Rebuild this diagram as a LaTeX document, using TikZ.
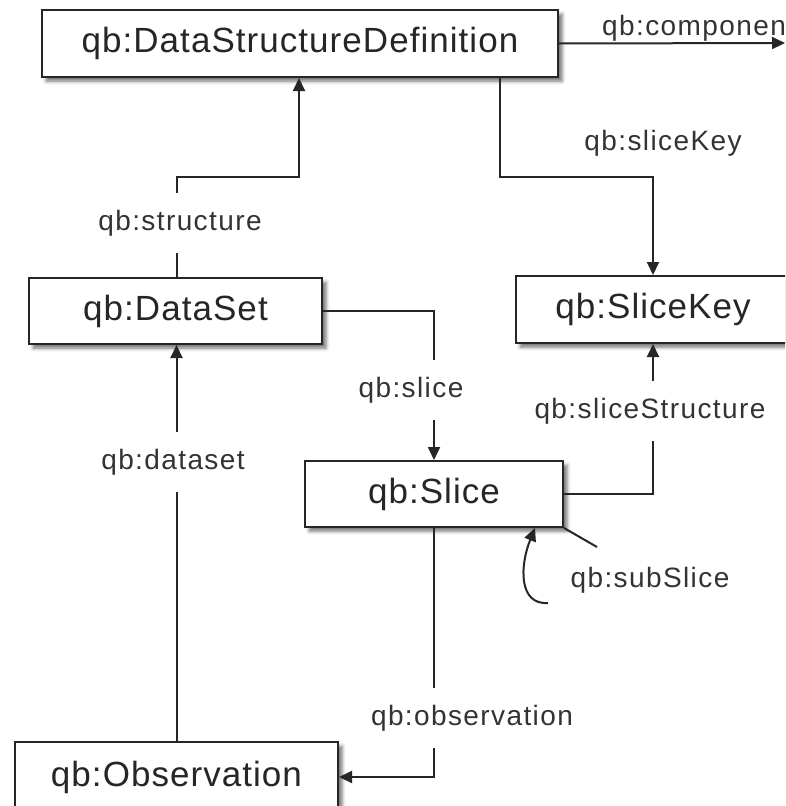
\documentclass[tikz,border=0pt]{standalone}
\usepackage{fontspec}
\setmainfont{Liberation Sans}
\newfontfamily\boxfont[LetterSpace=3]{Liberation Sans}
\newfontfamily\relfont[LetterSpace=5]{Liberation Sans}
\usetikzlibrary{arrows.meta,shadows.blur}

\tikzset{
  cls/.style={draw=black!85, line width=2pt, fill=white, inner sep=0pt,
    text=black!85, font=\boxfont\fontsize{35}{40}\selectfont,
    blur shadow={shadow xshift=4pt, shadow yshift=-4pt, shadow blur radius=3.5pt, shadow opacity=55}},
  rel/.style={inner sep=0pt, minimum height=60pt, text=black!80,
    font=\relfont\fontsize{28}{32}\selectfont},
  wire/.style={draw=black!85, line width=2pt},
  arr/.style={wire, -{Triangle[length=13pt, width=12pt]}},
}

\begin{document}
\begin{tikzpicture}[x=1pt, y=-1pt]
\useasboundingbox (0,0) rectangle (785,806);
\clip (0,0) rectangle (785,806);

% class boxes
\node[cls, minimum width=516pt, minimum height=67pt] (DSD) at (300,43.5) {qb:DataStructureDefinition};
\node[cls, minimum width=293pt, minimum height=66pt] (DataSet) at (175.5,311) {qb:DataSet};
\node[cls, minimum width=274pt, minimum height=67pt] (SliceKey) at (653,309.5) {qb:SliceKey};
\node[cls, minimum width=258pt, minimum height=66pt] (Slice) at (434,494) {qb:Slice};
\node[cls, minimum width=323pt, minimum height=70pt] (Observation) at (176.5,777) {qb:Observation};

% property labels
\node[rel] (lStructure) at (180,223) {qb:structure};
\node[rel] (lDataset) at (173,462) {qb:dataset};
\node[rel] (lSlice) at (411,390) {qb:slice};
\node[rel] (lSliceStructure) at (650,411) {qb:sliceStructure};
\node[rel] (lObservation) at (472,718) {qb:observation};
\node[rel, minimum height=0pt] (lSliceKey) at (663,143) {qb:sliceKey};
\node[rel, minimum height=0pt] (lSubSlice) at (650,580) {qb:subSlice};

% helper points
\coordinate (compEnd) at (785,43);
\coordinate (sBend) at (299,177);
\coordinate (kStart) at (500,177);
\coordinate (subLead) at (597,547);
\coordinate (subFrom) at (548,603);
\coordinate (subX) at (535,0);

% qb:component
\draw[arr] (DSD.east) -- (compEnd);
\node[rel, minimum height=0pt, anchor=base west] (lComponent) at (602,35) {qb:component};

% qb:structure
\draw[wire] (Observation.north |- DataSet.north) -- (Observation.north |- lStructure.south);
\draw[arr] (Observation.north |- lStructure.north) |- (sBend) -- (sBend |- DSD.south);

% qb:sliceKey
\draw[arr] (kStart |- DSD.south) -- (kStart) -| (SliceKey.north);

% qb:slice
\draw[wire] (DataSet.east) -| (Slice.north |- lSlice.north);
\draw[arr] (Slice.north |- lSlice.south) -- (Slice.north);

% qb:sliceStructure
\draw[wire] (Slice.east) -| (SliceKey.south |- lSliceStructure.south);
\draw[arr] (SliceKey.south |- lSliceStructure.north) -- (SliceKey.south);

% qb:observation
\draw[wire] (Slice.south) -- (Slice.south |- lObservation.north);
\draw[arr] (Slice.south |- lObservation.south) |- (Observation.east);

% qb:dataset
\draw[wire] (Observation.north) -- (Observation.north |- lDataset.south);
\draw[arr] (Observation.north |- lDataset.north) -- (Observation.north |- DataSet.south);

% qb:subSlice
\draw[wire] (Slice.south east) -- (subLead);
\draw[arr] (subFrom) .. controls (518,605) and (520,565) .. (Slice.south -| subX);
\end{tikzpicture}
\end{document}
